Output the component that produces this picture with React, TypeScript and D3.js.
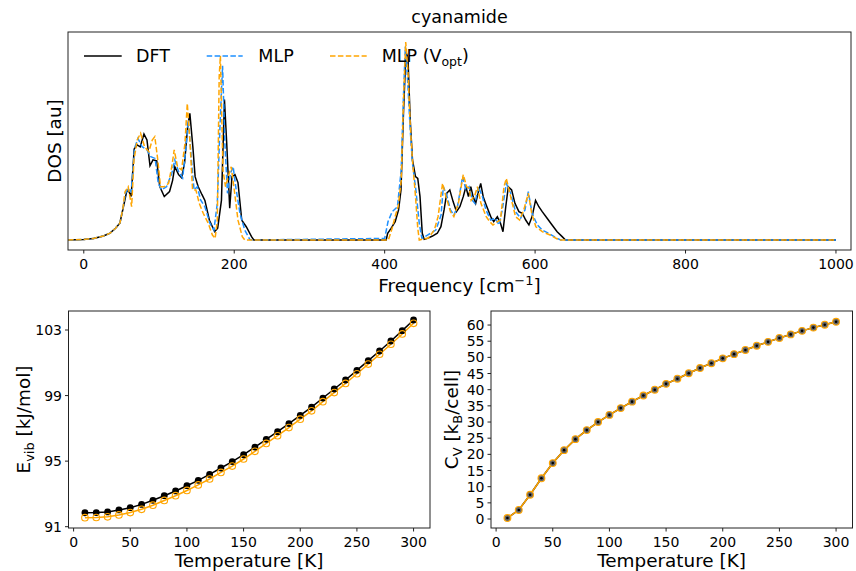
import * as d3 from 'd3'

// ---- data ----
const freqTicks = [0, 200, 400, 600, 800, 1000]
const tempTicks = [0, 50, 100, 150, 200, 250, 300]
const evibTicks = [91, 95, 99, 103]
const cvTicks = [0, 5, 10, 15, 20, 25, 30, 35, 40, 45, 50, 55, 60]

// DOS curves, [frequency cm^-1, normalized DOS]
const dosDft: [number, number][] = [
  [-21, 0], [0, 0.003], [13, 0.008], [26, 0.02], [35, 0.035], [42, 0.059], [48, 0.085], [52.7, 0.168],
  [57, 0.244], [59, 0.253], [63, 0.22], [67, 0.46], [71, 0.48], [75, 0.47], [80, 0.535], [84, 0.505],
  [88, 0.375], [92, 0.405], [97, 0.4], [101, 0.27], [107, 0.22], [114, 0.245], [118, 0.3], [121, 0.37],
  [126, 0.33], [130, 0.315], [134, 0.39], [138, 0.57], [141, 0.64], [145, 0.47], [148, 0.32], [152, 0.27],
  [157, 0.23], [161, 0.2], [167, 0.1], [174, 0.042], [178, 0.06], [183, 0.2], [187, 0.71], [190, 0.49],
  [194, 0.16], [197, 0.32], [201, 0.33], [205, 0.29], [210, 0.1], [216, 0.067], [223, 0.017], [226, 0],
  [402, 0], [404, 0.034], [408.5, 0.059], [414, 0.093], [418.5, 0.152], [421.7, 0.253], [425, 0.64],
  [428.3, 0.95], [431, 0.92], [434, 0.606], [437, 0.404], [441, 0.32], [444, 0.311], [447, 0.219],
  [450, 0.034], [452.6, 0.003], [457, 0.008], [463.6, 0.02], [470, 0.034], [474.8, 0.067], [479, 0.152],
  [482.5, 0.236], [486.6, 0.253], [491, 0.194], [495.5, 0.143], [500, 0.168], [504.5, 0.219], [508, 0.269],
  [511.4, 0.219], [514.5, 0.269], [517.6, 0.219], [521, 0.185], [524.7, 0.244], [527.7, 0.286], [531, 0.219],
  [535, 0.177], [541, 0.118], [545, 0.093], [549.8, 0.118], [554, 0.084], [557.3, 0.042], [561, 0.168],
  [564.4, 0.269], [568.8, 0.253], [573.2, 0.185], [578.5, 0.143], [583, 0.135], [587.5, 0.101], [591.8, 0.076],
  [596, 0.118], [600.6, 0.2], [605, 0.168], [609.5, 0.143], [616, 0.11], [622.6, 0.076], [629.3, 0.042],
  [636, 0.017], [640.4, 0], [1000, 0]
]

const dosMlp: [number, number][] = [
  [-21, 0], [0, 0.003], [13, 0.008], [26, 0.02], [35, 0.035], [42, 0.058], [48, 0.085], [52, 0.16],
  [55.5, 0.236], [59, 0.261], [63, 0.244], [67.5, 0.463], [72, 0.513], [77.5, 0.471], [84, 0.455],
  [89, 0.421], [94.8, 0.412], [99, 0.286], [103.5, 0.253], [110, 0.269], [117, 0.337], [121, 0.404],
  [126, 0.345], [131.4, 0.313], [136, 0.471], [139, 0.606], [143.5, 0.387], [146.6, 0.253], [151, 0.269],
  [155.3, 0.202], [161, 0.168], [167.7, 0.084], [173, 0.05], [177.5, 0.185], [181, 0.572], [184.5, 0.88],
  [187.6, 0.488], [191, 0.236], [195, 0.337], [198.6, 0.37], [202, 0.269], [207.6, 0.135], [214, 0.05],
  [220.7, 0.003], [224, 0],
  [400, 0.008], [404.5, 0.093], [410, 0.143], [417, 0.168], [422, 0.354], [425, 0.724], [427.5, 0.976],
  [430.5, 0.808], [434, 0.556], [437, 0.387], [441.5, 0.253], [446, 0.084], [449.5, 0.008], [457, 0.025],
  [468, 0.05], [475, 0.126], [478, 0.269], [482.5, 0.227], [487.5, 0.152], [492, 0.126], [496.8, 0.168],
  [503.6, 0.32], [508, 0.253], [512.3, 0.269], [516.7, 0.2], [520, 0.185], [524.7, 0.269], [530, 0.219],
  [534.6, 0.152], [541, 0.101], [547, 0.11], [552, 0.076], [556.4, 0.152], [561.7, 0.286], [567.5, 0.236],
  [574, 0.143], [580.8, 0.11], [586.5, 0.152], [591, 0.244], [596, 0.135], [603, 0.076], [609.5, 0.05],
  [618, 0.034], [627, 0.013], [634, 0], [1000, 0]
]

const dosMlpOpt: [number, number][] = [
  [-21, 0], [0, 0.003], [13, 0.008], [26, 0.02], [35, 0.035], [42, 0.058], [48, 0.085], [52, 0.16],
  [54.8, 0.244], [59, 0.269], [63.6, 0.168], [66.7, 0.404], [71, 0.505], [75.5, 0.539], [80.8, 0.471],
  [86.5, 0.446], [91, 0.505], [94.4, 0.522], [98.4, 0.404], [102, 0.269], [107, 0.269], [112.7, 0.286],
  [117, 0.37], [120.2, 0.455], [124.6, 0.37], [130, 0.354], [134.5, 0.488], [137.6, 0.69], [141, 0.505],
  [144.6, 0.253], [149, 0.253], [153.5, 0.185], [158.8, 0.135], [165.5, 0.084], [171, 0.025], [174.6, 0.008],
  [177.5, 0.1], [180, 0.825], [181.6, 0.93], [185, 0.354], [188.4, 0.269], [192, 0.32], [196, 0.37],
  [200.6, 0.236], [205, 0.1], [210.7, 0.017], [214, 0],
  [405, 0], [410, 0.06], [414, 0.12], [418, 0.17], [422, 0.3], [425, 0.7], [428, 1.0], [431, 0.85],
  [434, 0.58], [437, 0.4], [441, 0.22], [444, 0.06], [446, 0], [458, 0.01], [466, 0.05], [471, 0.118],
  [477, 0.286], [481.5, 0.219], [487.5, 0.143], [492, 0.118], [498, 0.185], [504.5, 0.33], [509, 0.269],
  [512.3, 0.261], [515, 0.2], [520, 0.227], [523.4, 0.269], [528, 0.185], [535, 0.118], [539.6, 0.093],
  [544, 0.076], [550, 0.093], [554, 0.101], [558.6, 0.269], [561.7, 0.311], [567.5, 0.219], [574, 0.118],
  [579.4, 0.101], [585, 0.152], [591, 0.236], [595.5, 0.135], [601, 0.067], [609.5, 0.042], [620, 0.025],
  [632, 0], [1000, 0]
]

const temps = [10, 20, 30, 40, 50, 60, 70, 80, 90, 100, 110, 120, 130, 140, 150,
  160, 170, 180, 190, 200, 210, 220, 230, 240, 250, 260, 270, 280, 290, 300]

const evibDft = [91.85, 91.86, 91.9, 92.02, 92.16, 92.36, 92.61, 92.89, 93.18, 93.5,
  93.83, 94.19, 94.58, 94.97, 95.39, 95.86, 96.33, 96.8, 97.29, 97.79,
  98.3, 98.85, 99.4, 99.95, 100.54, 101.13, 101.72, 102.33, 102.96, 103.61]

const evibOpt = [91.55, 91.56, 91.6, 91.72, 91.86, 92.06, 92.31, 92.6, 92.89, 93.21,
  93.55, 93.91, 94.31, 94.7, 95.13, 95.6, 96.08, 96.55, 97.05, 97.56,
  98.07, 98.63, 99.18, 99.74, 100.33, 100.92, 101.52, 102.13, 102.76, 103.41]

const cvDft = [0.3, 2.8, 7.5, 12.6, 17.3, 21.3, 24.7, 27.5, 30.0, 32.2,
  34.3, 36.3, 38.2, 40.0, 41.8, 43.4, 45.1, 46.7, 48.2, 49.7,
  51.0, 52.3, 53.6, 54.8, 56.0, 57.1, 58.2, 59.2, 60.1, 61.0]

const cvOpt = [0.3, 2.8, 7.5, 12.6, 17.3, 21.3, 24.7, 27.5, 30.0, 32.2,
  34.3, 36.3, 38.2, 40.0, 41.8, 43.4, 45.1, 46.7, 48.2, 49.7,
  51.0, 52.3, 53.6, 54.8, 56.0, 57.1, 58.2, 59.2, 60.1, 61.0]

const FONT = '"DejaVu Sans", sans-serif'
const BLUE = '#1e90ff'
const ORANGE = '#ffa500'
const LABEL = 18.4
const TICK = 14

const Spines = ({ x0, x1, y0, y1 }) => (
  <rect x={x0} y={y0} width={x1 - x0} height={y1 - y0} fill='none' stroke='#222' strokeWidth={1} />
)

const XTicks = ({ scale, ticks, y }) => (
  <g>
    {ticks.map(t => (
      <g key={t}>
        <line x1={scale(t)} x2={scale(t)} y1={y} y2={y + 3.5} stroke='#222' />
        <text x={scale(t)} y={y + 18.5} fontSize={TICK} textAnchor='middle' fontFamily={FONT}>{t}</text>
      </g>
    ))}
  </g>
)

const YTicks = ({ scale, ticks, x }) => (
  <g>
    {ticks.map(t => (
      <g key={t}>
        <line x1={x - 3.5} x2={x} y1={scale(t)} y2={scale(t)} stroke='#222' />
        <text x={x - 6.5} y={scale(t) + 5} fontSize={TICK} textAnchor='end' fontFamily={FONT}>{t}</text>
      </g>
    ))}
  </g>
)

const App = () => {
  // TOP: DOS
  const xF = d3.scaleLinear().domain([-21, 1020]).range([68, 851])
  const yF = d3.scaleLinear().domain([0, 1]).range([240, 42])
  const dosLine = d3.line<[number, number]>().x(d => xF(d[0])).y(d => yF(d[1]))

  // BOTTOM LEFT: E_vib
  const xT1 = d3.scaleLinear().domain([-4.5, 314.5]).range([68.5, 430])
  const yE = d3.scaleLinear().domain([90.92, 104.16]).range([528, 311])
  // BOTTOM RIGHT: C_v
  const xT2 = d3.scaleLinear().domain([-4.5, 314.5]).range([491, 852.5])
  const yC = d3.scaleLinear().domain([-2.78, 64.34]).range([528, 311])

  const tLine = (xs, ys, vals) => d3.line<number>().x((d, i) => xs(temps[i])).y(d => ys(d))(vals)

  return (
    <svg width={856} height={571} style={{ position: 'absolute', left: 0, top: 0, background: '#fff' }}
      fontFamily={FONT}>
      <defs>
        <clipPath id='clipTop'><rect x={68} y={32} width={783} height={218} /></clipPath>
      </defs>

      {/* TOP PANEL */}
      <text x={459.5} y={23} fontSize={17.5} textAnchor='middle'>cyanamide</text>
      <g clipPath='url(#clipTop)' fill='none'>
        <path d={dosLine(dosDft)} stroke='#000' strokeWidth={1.5} />
        <path d={dosLine(dosMlp)} stroke={BLUE} strokeWidth={1.5} strokeDasharray='5.5,2.4' />
        <path d={dosLine(dosMlpOpt)} stroke={ORANGE} strokeWidth={1.5} strokeDasharray='5.5,2.4' />
      </g>
      <Spines x0={68} x1={851} y0={32} y1={250} />
      <XTicks scale={xF} ticks={freqTicks} y={250} />
      <text x={459.5} y={292} fontSize={LABEL} textAnchor='middle'>
        Frequency [cm<tspan dy={-7} fontSize={13}>−1</tspan><tspan dy={7}>]</tspan>
      </text>
      <text transform='translate(61,141) rotate(-90)' fontSize={LABEL} textAnchor='middle'>DOS [au]</text>

      {/* legend */}
      <line x1={84} x2={121.7} y1={56} y2={56} stroke='#000' strokeWidth={1.5} />
      <text x={136} y={62} fontSize={17.5}>DFT</text>
      <line x1={206.7} x2={242.7} y1={56} y2={56} stroke={BLUE} strokeWidth={1.5} strokeDasharray='5.5,2.4' />
      <text x={258.3} y={62} fontSize={17.5}>MLP</text>
      <line x1={330} x2={366.7} y1={56} y2={56} stroke={ORANGE} strokeWidth={1.5} strokeDasharray='5.5,2.4' />
      <text x={381.7} y={62} fontSize={17.5}>
        MLP (V<tspan dy={4} fontSize={12.5}>opt</tspan><tspan dy={-4}>)</tspan>
      </text>

      {/* BOTTOM LEFT */}
      <g fill='none'>
        <path d={tLine(xT1, yE, evibDft)} stroke='#000' strokeWidth={1.5} />
        <path d={tLine(xT1, yE, evibOpt)} stroke={ORANGE} strokeWidth={1.5} />
      </g>
      {evibDft.map((v, i) => (
        <circle key={'ed' + i} cx={xT1(temps[i])} cy={yE(v)} r={3.4} fill='#000' />
      ))}
      {evibOpt.map((v, i) => (
        <circle key={'eo' + i} cx={xT1(temps[i])} cy={yE(v)} r={3.3} fill='none' stroke={ORANGE} strokeWidth={1.1} />
      ))}
      <Spines x0={68.5} x1={430} y0={311} y1={528} />
      <XTicks scale={xT1} ticks={tempTicks} y={528} />
      <YTicks scale={yE} ticks={evibTicks} x={68.5} />
      <text x={249} y={567} fontSize={LABEL} textAnchor='middle'>Temperature [K]</text>
      <text transform='translate(29.5,419.5) rotate(-90)' fontSize={LABEL} textAnchor='middle'>
        E<tspan dy={4} fontSize={13}>vib</tspan><tspan dy={-4}> [kJ/mol]</tspan>
      </text>

      {/* BOTTOM RIGHT */}
      <g fill='none'>
        <path d={tLine(xT2, yC, cvDft)} stroke='#000' strokeWidth={1.5} />
        <path d={tLine(xT2, yC, cvOpt)} stroke={ORANGE} strokeWidth={1.5} />
      </g>
      {cvDft.map((v, i) => (
        <circle key={'cd' + i} cx={xT2(temps[i])} cy={yC(v)} r={3.3} fill='#666' />
      ))}
      {cvDft.map((v, i) => (
        <circle key={'cdd' + i} cx={xT2(temps[i])} cy={yC(v)} r={1.3} fill='#000' />
      ))}
      {cvOpt.map((v, i) => (
        <circle key={'co' + i} cx={xT2(temps[i])} cy={yC(v)} r={3.4} fill='none' stroke={ORANGE} strokeWidth={1.1} />
      ))}
      <Spines x0={491} x1={852.5} y0={311} y1={528} />
      <XTicks scale={xT2} ticks={tempTicks} y={528} />
      <YTicks scale={yC} ticks={cvTicks} x={491} />
      <text x={671.5} y={567} fontSize={LABEL} textAnchor='middle'>Temperature [K]</text>
      <text transform='translate(458,419.5) rotate(-90)' fontSize={LABEL} textAnchor='middle'>
        C<tspan dy={4} fontSize={13}>V</tspan><tspan dy={-4}> [k</tspan><tspan dy={4} fontSize={13}>B</tspan><tspan dy={-4}>/cell]</tspan>
      </text>
    </svg>
  )
}

export default App
